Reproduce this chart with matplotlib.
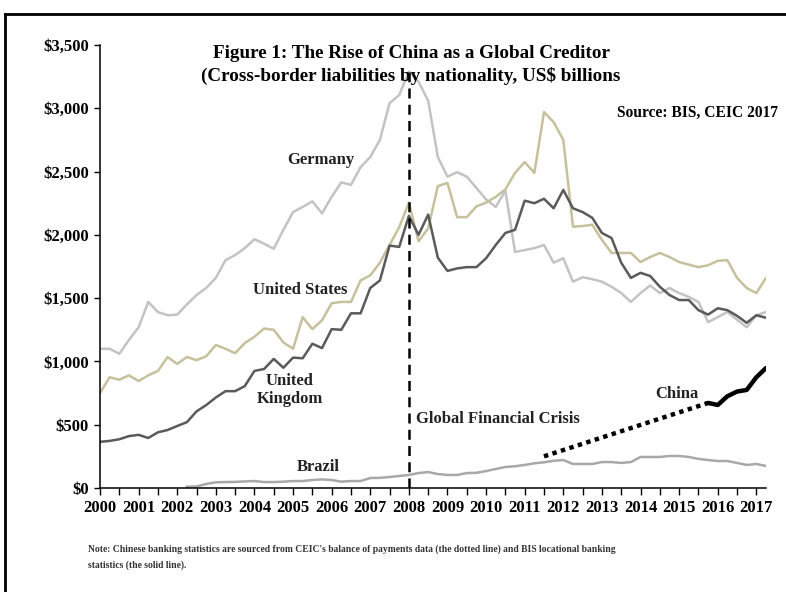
import numpy as np
import matplotlib
matplotlib.use('Agg')
import matplotlib.pyplot as plt
from matplotlib.lines import Line2D
from matplotlib.ticker import FuncFormatter

# quarterly cross-border liabilities, US$ billions
quarters = 2000 + np.arange(70) / 4

germany = [1100, 1100, 1060, 1170, 1270, 1470, 1390, 1365, 1370, 1450,
           1525, 1580, 1660, 1800, 1840, 1895, 1965, 1930, 1890, 2040,
           2180, 2220, 2265, 2170, 2300, 2415, 2395, 2535, 2615, 2750,
           3040, 3105, 3290, 3210, 3060, 2615, 2460, 2495, 2460, 2370,
           2280, 2220, 2350, 1865, 1880, 1895, 1920, 1780, 1815, 1630,
           1665, 1650, 1630, 1590, 1540, 1470, 1540, 1600, 1540, 1580,
           1540, 1510, 1470, 1310, 1350, 1390, 1330, 1270, 1365, 1390]

us = [750, 875, 855, 890, 845, 890, 925, 1035, 980, 1035,
      1010, 1040, 1130, 1100, 1065, 1145, 1195, 1260, 1250, 1150,
      1100, 1350, 1255, 1325, 1460, 1470, 1470, 1640, 1680, 1780,
      1920, 2060, 2255, 1950, 2050, 2385, 2410, 2140, 2140, 2225,
      2255, 2300, 2360, 2490, 2575, 2490, 2970, 2890, 2750, 2065,
      2070, 2080, 1960, 1857, 1857, 1857, 1785, 1825, 1857, 1825,
      1785, 1765, 1745, 1760, 1795, 1800, 1660, 1580, 1540, 1660]

uk = [365, 372, 385, 410, 420, 395, 440, 458, 490, 520,
      605, 655, 715, 765, 765, 805, 925, 940, 1020, 950,
      1030, 1025, 1140, 1105, 1255, 1250, 1380, 1380, 1580, 1640,
      1915, 1905, 2150, 2000, 2160, 1820, 1715, 1735, 1745, 1745,
      1815, 1920, 2015, 2040, 2270, 2250, 2285, 2210, 2355, 2210,
      2180, 2135, 2015, 1975, 1780, 1660, 1700, 1675, 1590, 1525,
      1485, 1485, 1405, 1370, 1420, 1405, 1360, 1305, 1365, 1345]

# brazil starts 2002Q2
brazil_start = 9
brazil = [10, 12, 32, 45, 47, 48, 52, 55, 47, 47,
          50, 55, 55, 63, 68, 63, 50, 55, 55, 79,
          80, 87, 95, 103, 118, 126, 110, 103, 103, 118,
          120, 134, 150, 166, 172, 182, 195, 203, 215, 221,
          190, 190, 190, 205, 205, 198, 205, 245, 245, 245,
          253, 253, 245, 230, 221, 213, 213, 198, 182, 190,
          174]

# china: CEIC balance of payments (dotted) and BIS locational (solid)
china_bop_x = [2011.5, 2015.75]
china_bop = [250, 672]
china_bis_start = 63
china_bis = [672, 656, 725, 762, 775, 875, 948]

crisis_year = 2008
year_labels = list(range(2000, 2018))

plt.rcParams['font.family'] = ['Liberation Serif', 'DejaVu Serif']
plt.rcParams['font.weight'] = 'bold'

fig = plt.figure(figsize=(7.86, 5.92), dpi=100)
ax = fig.add_axes([100 / 786, 104 / 592, 666 / 786, 443 / 592])

ax.plot(quarters, germany, color='#c3c3c3', lw=1.8)
ax.plot(quarters, us, color='#c6c09c', lw=1.8)
ax.plot(quarters, uk, color='#5a5a5a', lw=1.8)
ax.plot(quarters[brazil_start:], brazil, color='#a8a8a8', lw=1.8)
ax.plot(china_bop_x, china_bop, color='black', lw=3.2, ls=(0, (1, 1)))
ax.plot(quarters[china_bis_start:], china_bis, color='black', lw=3.2,
        solid_capstyle='round')
ax.vlines(crisis_year, 0, max(germany), color='black', lw=1.8,
          linestyles=(0, (4, 2.5)))

ax.set_xlim(quarters[0], quarters[-1])
ax.set_ylim(0, 3500)
ax.set_yticks(np.arange(0, 3501, 500))
ax.yaxis.set_major_formatter(FuncFormatter(lambda v, p: '${:,.0f}'.format(v)))
ax.set_xticks(year_labels)
ax.set_xticks(np.arange(2000, 2017.1, 0.5), minor=True)
ax.set_xticklabels([str(y) for y in year_labels])
for s in ['top', 'right']:
    ax.spines[s].set_visible(False)
for s in ['left', 'bottom']:
    ax.spines[s].set_linewidth(1.1)
ax.tick_params(axis='y', length=4, width=1, labelsize=12, pad=4)
ax.tick_params(axis='x', which='both', length=5, width=1, labelsize=12, pad=4)
for lab in ax.get_xticklabels() + ax.get_yticklabels():
    lab.set_fontweight('bold')

lab_kw = dict(fontsize=12, fontweight='bold', color='#222222')
ax.text(2005.73, 2591, 'Germany', ha='center', va='center', **lab_kw)
ax.text(2005.18, 1564, 'United States', ha='center', va='center', **lab_kw)
ax.text(2004.92, 774, 'United\nKingdom', ha='center', va='center',
        linespacing=1.1, **lab_kw)
ax.text(2005.65, 166, 'Brazil', ha='center', va='center', **lab_kw)
ax.text(2008.18, 545, 'Global Financial Crisis', ha='left', va='center', **lab_kw)
ax.text(2014.95, 743, 'China', ha='center', va='center', **lab_kw)

fig.text(411 / 786, 1 - 54 / 592, 'Figure 1: The Rise of China as a Global Creditor',
         ha='center', va='center', fontsize=13.8, fontweight='bold')
fig.text(411 / 786, 1 - 76 / 592, '(Cross-border liabilities by nationality, US$ billions',
         ha='center', va='center', fontsize=13.8, fontweight='bold')
fig.text(617 / 786, 1 - 113 / 592, 'Source: BIS, CEIC 2017',
         ha='left', va='center', fontsize=11.2, fontweight='bold')
fig.text(88 / 786, 1 - 549 / 592,
         "Note: Chinese banking statistics are sourced from CEIC's balance of payments data "
         "(the dotted line) and BIS locational banking",
         ha='left', va='center', fontsize=6.9, fontweight='bold', color='#333333')
fig.text(88 / 786, 1 - 565 / 592, 'statistics (the solid line).',
         ha='left', va='center', fontsize=6.9, fontweight='bold', color='#333333')

# frame around the figure (only top and left visible in the original crop)
fig.add_artist(Line2D([5 / 786, 1.0], [1 - 14 / 592] * 2, color='black', lw=2,
                      transform=fig.transFigure))
fig.add_artist(Line2D([5 / 786] * 2, [0.0, 1 - 14 / 592], color='black', lw=2,
                      transform=fig.transFigure))

fig.savefig('out.png', dpi=100)
